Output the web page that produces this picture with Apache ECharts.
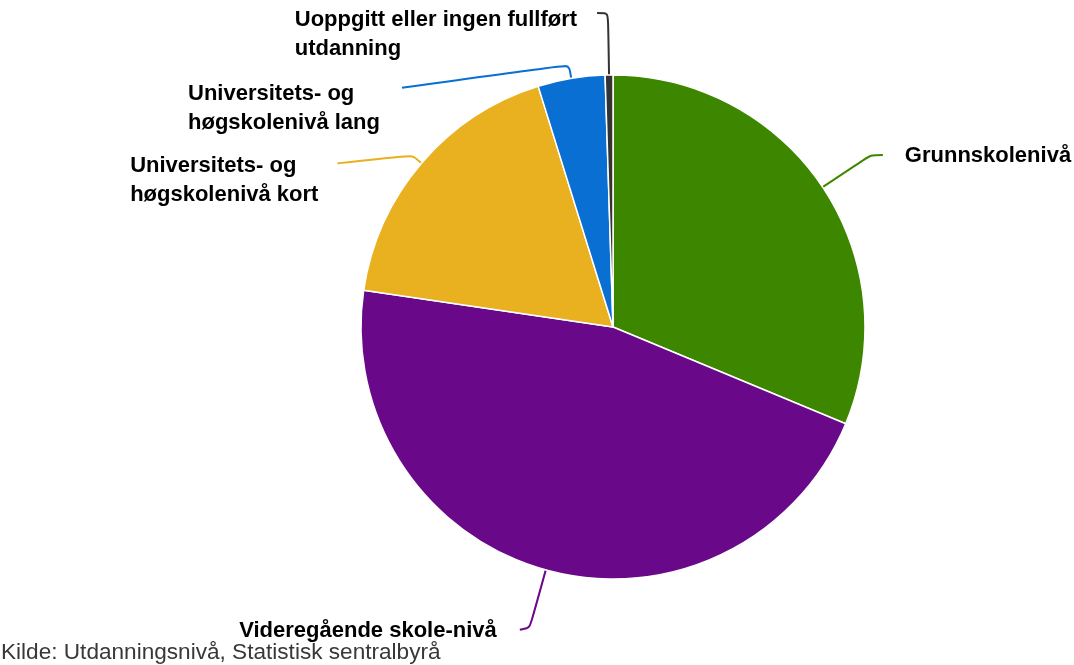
<!DOCTYPE html>
<html><head><meta charset="utf-8">
<script src="https://cdn.jsdelivr.net/npm/echarts@6/dist/echarts.min.js"></script>
<style>html,body{margin:0;padding:0;background:#fff}#c{width:1074px;height:665px}</style>
</head><body><div id="c"></div>
<script>
const categories = ['Grunnskolenivå', 'Videregående skole-nivå', 'Universitets- og\nhøgskolenivå kort', 'Universitets- og\nhøgskolenivå lang', 'Uoppgitt eller ingen fullført\nutdanning'];
const values = [31.3, 46.1, 17.9, 4.3, 0.5];
const colors = ['#3d8700', '#690989', '#e9b020', '#0a6fd2', '#333333'];
const sourceText = 'Kilde: Utdanningsnivå, Statistisk sentralbyrå';

// per-slice label tuning (line lengths, spacing, vertical text offset, end-of-line drop)
const lineLen = [58, 60, 12, 14, 62];
const lineLen2 = [12, 10, 75, 167, 11];
const labelGap = [22, 23, 19, 22, 20];
const labelPadTop = [2, 6, 51, 88, 42];
const lineEndDrop = [0, 2, 8, 23, 0];

const FONT = "'Liberation Sans', Arial, Helvetica, sans-serif";
const chart = echarts.init(document.getElementById('c'));
chart.setOption({
  animation: false,
  backgroundColor: '#fff',
  title: {
    text: sourceText, left: 1, top: 641, padding: 0,
    textStyle: { fontFamily: FONT, fontSize: 22.6, fontWeight: 'normal', color: '#383838' }
  },
  series: [{
    type: 'pie',
    center: [613, 327],
    radius: 252,
    startAngle: 90,
    clockwise: true,
    avoidLabelOverlap: false,
    minShowLabelAngle: 0,
    itemStyle: { borderColor: '#fff', borderWidth: 1.5 },
    label: {
      show: true,
      fontFamily: FONT,
      formatter: p => p.name.split('\n').map(s => '{a|' + s + '}').join('\n'),
      rich: { a: { fontFamily: FONT, fontSize: 22, fontWeight: 'bold', color: '#000', lineHeight: 29, align: 'left' } }
    },
    labelLine: { show: true, smooth: 0.25, lineStyle: { width: 2 } },
    labelLayout: function (params) {
      const pts = params.labelLinePoints;
      if (!pts) return {};
      const d = lineEndDrop[params.dataIndex] || 0;
      const np = pts.map(p => [p[0], p[1]]);
      np[np.length - 1][1] += d;
      return { labelLinePoints: np };
    },
    emphasis: { disabled: true },
    data: categories.map((name, i) => ({
      name, value: values[i],
      itemStyle: { color: colors[i] },
      label: { distanceToLabelLine: labelGap[i], padding: [labelPadTop[i], 0, 0, 0] },
      labelLine: { length: lineLen[i], length2: lineLen2[i], lineStyle: { color: colors[i] } }
    }))
  }]
});
</script></body></html>
